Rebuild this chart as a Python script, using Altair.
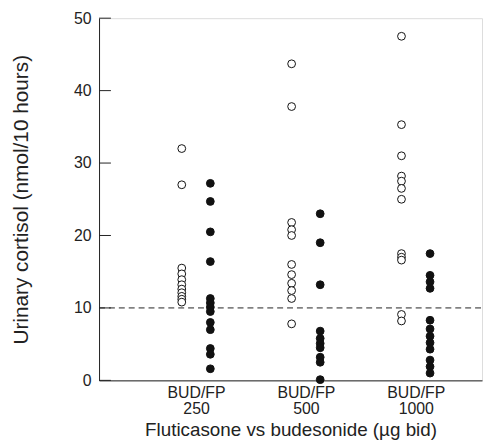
import altair as alt
import pandas as pd

doses = ["250", "500", "1000"]
bud_250 = [32.0, 27.0, 15.5, 14.7, 13.9, 13.2, 12.6, 12.1, 11.6, 11.2, 10.8]
fp_250 = [27.2, 24.7, 20.5, 16.4, 11.3, 10.7, 10.1, 9.5, 8.0, 7.0, 4.4, 3.6, 1.6]
bud_500 = [43.7, 37.8, 21.8, 20.8, 20.0, 16.0, 14.6, 13.4, 12.4, 11.3, 7.8]
fp_500 = [23.0, 19.0, 13.2, 6.8, 5.8, 5.1, 4.5, 3.2, 2.5, 0.1]
bud_1000 = [47.5, 35.3, 31.0, 28.2, 27.5, 26.5, 25.0, 17.5, 17.0, 16.6, 9.1, 8.2]
fp_1000 = [17.5, 14.5, 13.6, 12.7, 8.3, 7.1, 6.1, 5.2, 4.3, 2.8, 1.9, 1.0]
y_ticks = [0, 10, 20, 30, 40, 50]
reference_level = [10]

rows = []
for dose, bud, fp in zip(doses, [bud_250, bud_500, bud_1000], [fp_250, fp_500, fp_1000]):
    rows += [{"dose": dose, "drug": "BUD", "cortisol": v} for v in bud]
    rows += [{"dose": dose, "drug": "FP", "cortisol": v} for v in fp]
df = pd.DataFrame(rows)

FONT = "Liberation Sans"
W, H = 387, 366
xscale = alt.Scale(domain=[0.117, 3.603], nice=False, zero=False)
yscale = alt.Scale(domain=[0, 50], nice=False, zero=True)

base = alt.Chart(df).transform_calculate(
    xpos="indexof(['250','500','1000'], datum.dose) + 1 + (datum.drug == 'BUD' ? -0.13 : 0.13)"
)

points = base.mark_point(shape="circle", size=62, strokeWidth=1, opacity=1).encode(
    x=alt.X("xpos:Q", scale=xscale,
            axis=alt.Axis(values=[1, 2, 3], title="Fluticasone vs budesonide (µg bid)",
                          labelExpr="['BUD/FP', ['250','500','1000'][datum.value - 1]]",
                          ticks=False, grid=False, labelFontSize=16, labelFont=FONT,
                          labelColor="#222", labelPadding=4, labelLineHeight=17,
                          titleFont=FONT, titleFontSize=19, titleFontWeight="normal",
                          titleColor="#222", titlePadding=4,
                          domainColor="#222", domainWidth=1)),
    y=alt.Y("cortisol:Q", scale=yscale,
            axis=alt.Axis(values=y_ticks, title="Urinary cortisol (nmol/10 hours)",
                          ticks=False, grid=False, labelFontSize=16, labelFont=FONT,
                          labelColor="#222", labelPadding=8,
                          titleFont=FONT, titleFontSize=21, titleFontWeight="normal",
                          titleColor="#222", titlePadding=42,
                          domainColor="#222", domainWidth=1)),
    color=alt.Color("drug:N", scale=alt.Scale(domain=["BUD", "FP"], range=["#111", "#111"]), legend=None),
    fill=alt.Fill("drug:N", scale=alt.Scale(domain=["BUD", "FP"], range=["white", "#111"]), legend=None),
)

ticks_df = pd.DataFrame({"t": y_ticks})
tick_marks = alt.Chart(ticks_df).mark_rule(color="#222", strokeWidth=1).encode(
    y=alt.Y("t:Q", scale=yscale), x=alt.value(0), x2=alt.value(12)
)

ref = alt.Chart(pd.DataFrame({"r": reference_level})).mark_rule(
    color="#222", strokeWidth=1, strokeDash=[6, 4]
).encode(y=alt.Y("r:Q", scale=yscale), x=alt.value(0), x2=alt.value(W))

chart = alt.layer(ref, tick_marks, points).properties(width=W, height=H).configure_view(
    stroke=None
).configure(padding={"left": 3, "top": 0, "right": 0, "bottom": 0})

chart.save("out.html", embed_options={"renderer": "svg", "actions": False})
